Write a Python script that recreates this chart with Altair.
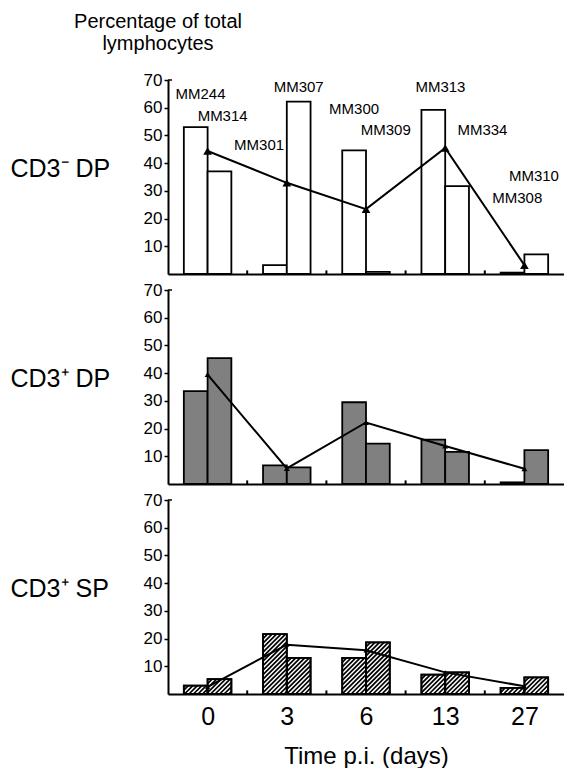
import json
import altair as alt
import pandas as pd

# ---- data ----
times = ["0", "3", "6", "13", "27"]

cd3neg_dp_a = [53.0, 3.2, 44.6, 59.2, 0.5]
cd3neg_dp_b = [37.0, 62.2, 0.8, 31.7, 7.1]
cd3neg_dp_mean = [44.4, 32.9, 23.4, 45.5, 3.2]

cd3pos_dp_a = [33.5, 6.7, 29.5, 16.0, 0.6]
cd3pos_dp_b = [45.4, 6.0, 14.6, 11.6, 12.2]
cd3pos_dp_mean = [39.5, 5.6, 22.2, 13.7, 5.5]

cd3pos_sp_a = [3.0, 21.6, 13.0, 7.0, 2.2]
cd3pos_sp_b = [5.4, 13.0, 18.6, 7.8, 6.0]
cd3pos_sp_mean = [2.6, 17.8, 15.8, 7.8, 2.8]

animal_names = ["MM244", "MM314", "MM301", "MM307", "MM300",
                "MM309", "MM313", "MM334", "MM310", "MM308"]
animal_group = [0, 0, 1, 1, 2, 2, 3, 3, 4, 4]
animal_shift = [-0.09, 0.19, -0.35, 0.15, -0.15, 0.25, -0.06, 0.47, 0.12, -0.09]
animal_level = [65, 57, 46.4, 67.5, 59.6, 51.8, 67.5, 51.8, 35.4, 27.5]

y_ticks = [10, 20, 30, 40, 50, 60, 70]

# ---- layout ----
W, H = 396, 194
NG = len(times)
FONT = "Liberation Sans"
YMAX = 70

xscale = alt.Scale(domain=[0, NG], nice=False, zero=False)
yscale = alt.Scale(domain=[0, YMAX], nice=False)


def bars_frame(a, b):
    rows = []
    for i in range(NG):
        rows.append(dict(x0=i + 0.2, x1=i + 0.5, v=a[i]))
        rows.append(dict(x0=i + 0.5, x1=i + 0.8, v=b[i]))
    return pd.DataFrame(rows)


def hatch_frame(a, b, step=4.5):
    sx = W / NG
    sy = H / YMAX
    segs = []
    for i in range(NG):
        for (x0, x1, v) in [(i + 0.2, i + 0.5, a[i]), (i + 0.5, i + 0.8, b[i])]:
            X0, X1, Hh = x0 * sx, x1 * sx, v * sy
            c = X0 - Hh
            while c < X1:
                s = max(X0, c)
                e = min(X1, c + Hh)
                if e - s > 0.3:
                    segs.append(dict(hx=s / sx, hx2=e / sx,
                                     hy=(s - c) / sy, hy2=(e - c) / sy))
                c += step
    return pd.DataFrame(segs)


def panel(a, b, mean, fill, title, marker_size, last=False, hatch=False, labels=False):
    if last:
        xaxis = alt.Axis(values=[i + 0.5 for i in range(NG)], tickCount=NG,
                         labelExpr=json.dumps(times) + "[floor(datum.value)]",
                         tickSize=0, domainWidth=2, domainColor="black",
                         labelFontSize=25, labelFont=FONT, labelColor="black",
                         labelPadding=10, grid=False, labelOverlap=False,
                         title="Time p.i. (days)", titleFont=FONT, titleFontSize=24,
                         titleFontWeight="normal", titleColor="black", titlePadding=15)
    else:
        xaxis = alt.Axis(values=[i + 0.5 for i in range(NG)], tickCount=NG,
                         labels=False, tickSize=0, domainWidth=2,
                         domainColor="black", grid=False, title="")
    yaxis = alt.Axis(values=y_ticks, tickCount=len(y_ticks), tickSize=4,
                     tickWidth=1.5, tickColor="black",
                     domainWidth=2, domainColor="black", labelFontSize=17,
                     labelFont=FONT, labelColor="black", labelPadding=2, grid=False,
                     labelOverlap=False, labelFlush=False,
                     title=title, titleAngle=0, titleAlign="left",
                     titleBaseline="middle", titleX=-158, titleY=88,
                     titleFont=FONT, titleFontSize=25, titleFontWeight="normal",
                     titleColor="black")

    bdf = bars_frame(a, b)
    bars = alt.Chart(bdf).mark_rect(
        fill=fill, stroke="black", strokeWidth=1.8
    ).encode(
        x=alt.X("x0:Q", scale=xscale, axis=xaxis),
        x2="x1:Q",
        y=alt.Y("v:Q", scale=yscale, axis=yaxis),
        y2=alt.datum(0),
    )
    layers = [bars]

    if hatch:
        hdf = hatch_frame(a, b)
        hl = alt.Chart(hdf).mark_rule(color="black", strokeWidth=1.7).encode(
            x=alt.X("hx:Q", scale=xscale), x2="hx2:Q",
            y=alt.Y("hy:Q", scale=yscale), y2="hy2:Q",
        )
        outline = alt.Chart(bdf).mark_rect(
            fill="transparent", stroke="black", strokeWidth=1.8
        ).encode(x=alt.X("x0:Q", scale=xscale), x2="x1:Q",
                 y=alt.Y("v:Q", scale=yscale), y2=alt.datum(0))
        layers += [hl, outline]

    bnd = pd.DataFrame({"bx": [float(i) for i in range(1, NG)]})
    minor = alt.Chart(bnd).mark_rule(color="black", strokeWidth=2).encode(
        x=alt.X("bx:Q", scale=xscale), y=alt.datum(0), y2=alt.datum(1.3)
    )
    layers.append(minor)

    top_tick = alt.Chart(pd.DataFrame({"tv": [y_ticks[-1]]})).mark_rule(
        color="black", strokeWidth=1.5
    ).encode(x=alt.datum(0), x2=alt.datum(0.05),
             y=alt.Y("tv:Q", scale=yscale))
    layers.append(top_tick)

    mdf = pd.DataFrame({"mx": [i + 0.5 for i in range(NG)], "m": mean})
    line = alt.Chart(mdf).mark_line(
        color="black", strokeWidth=2,
        point=alt.OverlayMarkDef(shape="triangle-up", size=marker_size,
                                 filled=True, color="black"),
    ).encode(x=alt.X("mx:Q", scale=xscale), y=alt.Y("m:Q", scale=yscale))
    layers.append(line)

    if labels:
        ldf = pd.DataFrame({
            "lx": [g + 0.5 + s for g, s in zip(animal_group, animal_shift)],
            "ly": animal_level,
            "t": animal_names,
        })
        txt = alt.Chart(ldf).mark_text(
            font=FONT, fontSize=15, color="black"
        ).encode(x=alt.X("lx:Q", scale=xscale), y=alt.Y("ly:Q", scale=yscale),
                 text="t:N")
        layers.append(txt)

    return alt.layer(*layers).properties(width=W, height=H)


p1 = panel(cd3neg_dp_a, cd3neg_dp_b, cd3neg_dp_mean, "white", "CD3\u207b DP", 75, labels=True)
p2 = panel(cd3pos_dp_a, cd3pos_dp_b, cd3pos_dp_mean, "#808080", "CD3\u207a DP", 35)
p3 = panel(cd3pos_sp_a, cd3pos_sp_b, cd3pos_sp_mean, "white", "CD3\u207a SP", 25,
           last=True, hatch=True)

chart = alt.vconcat(p1, p2, p3, spacing=16, bounds="flush").properties(
    title=alt.TitleParams(
        ["Percentage of total", "lymphocytes"], anchor="start", align="center",
        dx=-10, font=FONT, fontSize=20, fontWeight="normal", color="black",
        lineHeight=22, offset=17, frame="group"),
    padding={"left": 2, "top": 4, "right": 0, "bottom": 0},
).configure_view(strokeWidth=0).configure_axis(labelOverlap=False)

chart.save("out.html", embed_options={"renderer": "svg", "actions": False})
